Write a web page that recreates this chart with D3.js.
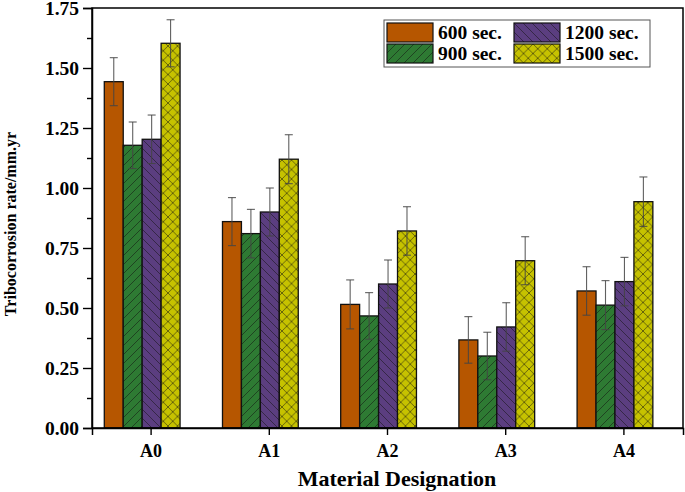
<!DOCTYPE html>
<html>
<head>
<meta charset="utf-8">
<script src="https://cdn.jsdelivr.net/npm/d3@7"></script>
<style>
  body { margin: 0; background: #fff; }
  text { font-family: "Liberation Serif", "Times New Roman", serif; font-weight: bold; fill: #000; }
</style>
</head>
<body>
<div id="chart"></div>
<script>
// data
const categories = ["A0", "A1", "A2", "A3", "A4"];
const seriesNames = ["600 sec.", "900 sec.", "1200 sec.", "1500 sec."];
const values600  = [1.443, 0.860, 0.515, 0.367, 0.571];
const values900  = [1.178, 0.810, 0.467, 0.300, 0.512];
const values1200 = [1.203, 0.900, 0.600, 0.421, 0.610];
const values1500 = [1.603, 1.120, 0.821, 0.697, 0.943];
const err600  = [0.100, 0.100, 0.102, 0.097, 0.101];
const err900  = [0.097, 0.101, 0.097, 0.099, 0.102];
const err1200 = [0.101, 0.100, 0.100, 0.101, 0.101];
const err1500 = [0.098, 0.102, 0.101, 0.100, 0.103];
const yTicks = [0, 0.25, 0.5, 0.75, 1.0, 1.25, 1.5, 1.75];

const allValues = [values600, values900, values1200, values1500];
const allErrors = [err600, err900, err1200, err1500];

const width = 685, height = 492;
const margin = {top: 8, right: 2, bottom: 64, left: 92};
const plotW = width - margin.left - margin.right;
const plotH = height - margin.top - margin.bottom;

const colors = ["#b65600", "#2e7a33", "#5b3e80", "#c6c200"];
const fills = [colors[0], "url(#hatchFwd)", "url(#hatchBack)", "url(#hatchCross)"];

let svg = d3.select("#chart").append("svg")
    .attr("width", width)
    .attr("height", height);

// hatch patterns
let defs = svg.append("defs");
function addPattern(id, bg, size, d) {
    let p = defs.append("pattern")
        .attr("id", id)
        .attr("patternUnits", "userSpaceOnUse")
        .attr("width", size).attr("height", size);
    p.append("rect").attr("width", size).attr("height", size).attr("fill", bg);
    p.append("path").attr("d", d)
        .attr("stroke", "#111").attr("stroke-opacity", 0.75)
        .attr("stroke-width", 0.7).attr("fill", "none");
}
addPattern("hatchFwd", colors[1], 9, "M0,9L9,0M-2,2L2,-2M7,11L11,7");
addPattern("hatchBack", colors[2], 9, "M0,0L9,9M-2,7L2,11M7,-2L11,2");
addPattern("hatchCross", colors[3], 9.5, "M0,9.5L9.5,0M0,0L9.5,9.5M-2,2L2,-2M7.5,11.5L11.5,7.5M-2,7.5L2,11.5M7.5,-2L11.5,2");

let g = svg.append("g")
    .attr("transform", `translate(${margin.left},${margin.top})`);

let x = d3.scaleBand()
    .domain(categories)
    .range([0, plotW])
    .padding(0);

let bw = x.bandwidth();
let x1 = d3.scaleBand()
    .domain(seriesNames)
    .range([bw * 0.104, bw * 0.745])
    .padding(0);

let y = d3.scaleLinear()
    .domain([0, 1.75])
    .range([plotH, 0]);

// bars
let table = [];
categories.forEach((c, ci) => {
    seriesNames.forEach((s, si) => {
        table.push({cat: c, series: s, si: si, value: allValues[si][ci], err: allErrors[si][ci]});
    });
});

g.selectAll("rect.bar").data(table).enter()
    .append("rect")
    .attr("class", "bar")
    .attr("x", d => x(d.cat) + x1(d.series))
    .attr("y", d => y(d.value))
    .attr("width", x1.bandwidth())
    .attr("height", d => y(0) - y(d.value))
    .attr("fill", d => fills[d.si])
    .attr("stroke", "#111")
    .attr("stroke-width", 1.3);

// error bars
let eb = g.selectAll("g.err").data(table).enter()
    .append("g").attr("class", "err")
    .attr("stroke", "#444").attr("stroke-opacity", 0.85).attr("stroke-width", 1.1);
eb.append("line")
    .attr("x1", d => x(d.cat) + x1(d.series) + x1.bandwidth() / 2)
    .attr("x2", d => x(d.cat) + x1(d.series) + x1.bandwidth() / 2)
    .attr("y1", d => y(d.value - d.err))
    .attr("y2", d => y(d.value + d.err));
[1, -1].forEach(sign => {
    eb.append("line")
        .attr("x1", d => x(d.cat) + x1(d.series) + x1.bandwidth() / 2 - 4)
        .attr("x2", d => x(d.cat) + x1(d.series) + x1.bandwidth() / 2 + 4)
        .attr("y1", d => y(d.value + sign * d.err))
        .attr("y2", d => y(d.value + sign * d.err));
});

// frame
g.append("rect")
    .attr("width", plotW).attr("height", plotH)
    .attr("fill", "none").attr("stroke", "#000").attr("stroke-width", 1.5);

// y axis, major + minor ticks
let minor = d3.range(0.125, 1.75, 0.25);
g.append("g")
    .call(d3.axisLeft(y).tickValues(minor).tickSize(5).tickFormat(""))
    .call(a => a.select(".domain").remove())
    .selectAll("line").attr("stroke-width", 1.4);
let yAxis = g.append("g")
    .call(d3.axisLeft(y).tickValues(yTicks).tickSize(9).tickPadding(4).tickFormat(d3.format(".2f")));
yAxis.select(".domain").attr("stroke-width", 1.5);
yAxis.selectAll("line").attr("stroke-width", 1.4);
yAxis.selectAll("text").style("font-size", "19.5px").attr("font-family", null);

// x axis
let xAxis = g.append("g")
    .attr("transform", `translate(0,${plotH})`)
    .call(d3.axisBottom(x).tickSize(7).tickPadding(9));
xAxis.select(".domain").attr("stroke-width", 1.5);
xAxis.selectAll("line").attr("stroke-width", 1.4);
xAxis.selectAll("text").style("font-size", "18px").attr("font-family", null);

// axis titles
svg.append("text")
    .attr("transform", `translate(16,${margin.top + plotH / 2 + 6}) rotate(-90)`)
    .style("text-anchor", "middle")
    .style("font-size", "16px")
    .text("Tribocorrosion rate/mm.yr");
svg.append("text")
    .attr("x", 397)
    .attr("y", 486)
    .style("text-anchor", "middle")
    .style("font-size", "22px")
    .text("Material Designation");

// legend
let legend = svg.append("g").attr("transform", "translate(384,20)");
legend.append("rect")
    .attr("width", 266).attr("height", 47)
    .attr("fill", "#fff").attr("stroke", "#555").attr("stroke-width", 1);
let legendPos = [[0, 0], [0, 1], [1, 0], [1, 1]];
seriesNames.forEach((s, i) => {
    let [col, row] = legendPos[i];
    let lg = legend.append("g").attr("transform", `translate(${3 + col * 127},${3 + row * 21})`);
    lg.append("rect")
        .attr("width", 46).attr("height", 19)
        .attr("fill", fills[i]).attr("stroke", "#111").attr("stroke-width", 1.2);
    lg.append("text")
        .attr("x", 51).attr("y", 15.5)
        .style("font-size", "19.5px")
        .text(s);
});
</script>
</body>
</html>
